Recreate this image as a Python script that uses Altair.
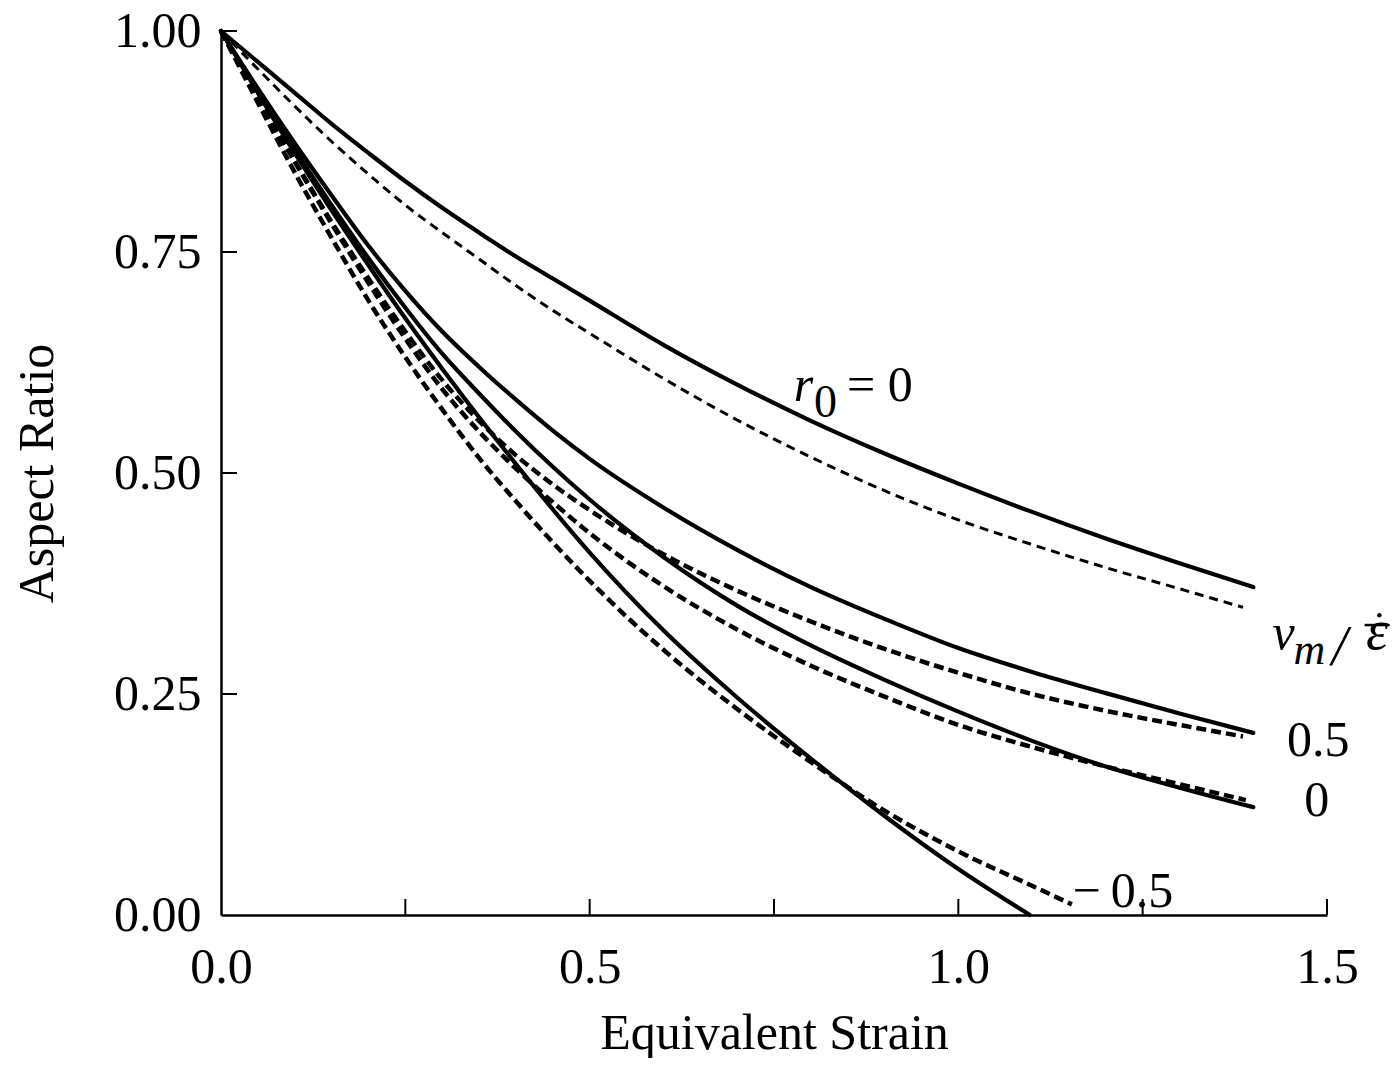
import altair as alt
import pandas as pd

# ---- data ----
xs = [0, 0.05, 0.1, 0.15, 0.2, 0.25, 0.3, 0.35, 0.4, 0.45, 0.5, 0.6, 0.7, 0.8, 0.9, 1.0, 1.1, 1.2, 1.3, 1.4]

solid_A = [1.0, 0.965, 0.93, 0.895, 0.862, 0.83, 0.80, 0.772, 0.745, 0.72, 0.695, 0.645, 0.60, 0.559, 0.522, 0.488, 0.456, 0.426, 0.398, 0.371]
dash_A_x = [0, 0.05, 0.1, 0.15, 0.2, 0.25, 0.3, 0.35, 0.4, 0.45, 0.5, 0.6, 0.7, 0.8, 0.9, 1.0, 1.1, 1.2, 1.3, 1.386]
dash_A = [1.0, 0.957, 0.915, 0.875, 0.838, 0.803, 0.772, 0.742, 0.712, 0.684, 0.658, 0.607, 0.560, 0.518, 0.480, 0.447, 0.419, 0.393, 0.369, 0.348]

solid_B = [1.0, 0.935, 0.873, 0.814, 0.757, 0.706, 0.66, 0.62, 0.583, 0.548, 0.516, 0.461, 0.413, 0.371, 0.335, 0.302, 0.275, 0.251, 0.228, 0.206]
dash_B_x = [0, 0.05, 0.1, 0.15, 0.2, 0.25, 0.3, 0.35, 0.4, 0.45, 0.5, 0.6, 0.7, 0.8, 0.9, 1.0, 1.1, 1.2, 1.3, 1.386]
dash_B = [1.0, 0.925, 0.853, 0.784, 0.72, 0.66, 0.605, 0.559, 0.52, 0.487, 0.458, 0.408, 0.367, 0.332, 0.301, 0.274, 0.25, 0.231, 0.215, 0.202]

solid_C = [1.0, 0.932, 0.866, 0.803, 0.743, 0.687, 0.635, 0.59, 0.547, 0.507, 0.47, 0.405, 0.350, 0.305, 0.266, 0.23, 0.197, 0.168, 0.144, 0.122]
dash_C_x = [0, 0.05, 0.1, 0.15, 0.2, 0.25, 0.3, 0.35, 0.4, 0.45, 0.5, 0.6, 0.7, 0.8, 0.9, 1.0, 1.1, 1.2, 1.3, 1.39]
dash_C = [1.0, 0.925, 0.852, 0.782, 0.715, 0.652, 0.595, 0.547, 0.505, 0.467, 0.432, 0.372, 0.323, 0.282, 0.247, 0.215, 0.19, 0.168, 0.148, 0.13]

solid_D_x = [0, 0.05, 0.1, 0.15, 0.2, 0.25, 0.3, 0.35, 0.4, 0.5, 0.6, 0.7, 0.8, 0.9, 1.0, 1.097]
solid_D = [1.0, 0.93, 0.862, 0.797, 0.735, 0.675, 0.618, 0.563, 0.51, 0.41, 0.322, 0.246, 0.177, 0.112, 0.052, 0.0]
dash_D_x = [0, 0.05, 0.1, 0.15, 0.2, 0.25, 0.3, 0.35, 0.4, 0.5, 0.6, 0.7, 0.8, 0.9, 1.0, 1.1, 1.154]
dash_D = [1.0, 0.919, 0.84, 0.766, 0.695, 0.631, 0.572, 0.517, 0.468, 0.378, 0.300, 0.233, 0.173, 0.118, 0.072, 0.033, 0.012]

x_ticks = [0.25, 0.5, 0.75, 1.0, 1.25, 1.5]
y_ticks = [0.25, 0.5, 0.75, 1.0]
x_labels = [0.0, 0.5, 1.0, 1.5]
y_labels = [0.0, 0.25, 0.5, 0.75, 1.0]

FONT = "Liberation Serif"
W, H = 1106, 884

def frame(name, xv, yv):
    return pd.DataFrame({"series": name, "x": xv, "y": yv, "i": range(len(xv))})

solid_df = pd.concat([
    frame("A", xs, solid_A), frame("B", xs, solid_B),
    frame("C", xs, solid_C), frame("D", solid_D_x, solid_D)])
dashA_df = frame("A", dash_A_x, dash_A)
dash_df = pd.concat([frame("B", dash_B_x, dash_B), frame("C", dash_C_x, dash_C), frame("D", dash_D_x, dash_D)])

xscale = alt.Scale(domain=[0, 1.5], nice=False, zero=False)
yscale = alt.Scale(domain=[0, 1.0], nice=False, zero=False)

xaxis = alt.Axis(values=x_labels, format=".1f", title="Equivalent Strain", grid=False,
                 ticks=False, labelFlush=False, domainColor="black", domainWidth=2.5,
                 labelFont=FONT, labelFontSize=50, labelColor="black", labelPadding=27,
                 titleFont=FONT, titleFontSize=50, titleFontWeight="normal", titleColor="black",
                 titlePadding=16)
yaxis = alt.Axis(values=y_labels, format=".2f", title="Aspect Ratio", grid=False,
                 ticks=False, labelFlush=False, domainColor="black", domainWidth=2.5,
                 labelFont=FONT, labelFontSize=50, labelColor="black", labelPadding=20,
                 titleFont=FONT, titleFontSize=50, titleFontWeight="normal", titleColor="black",
                 titlePadding=51)

X = alt.X("x:Q", scale=xscale, axis=xaxis)
Y = alt.Y("y:Q", scale=yscale, axis=yaxis)

solid = alt.Chart(solid_df).mark_line(color="black", strokeWidth=4.2, interpolate="monotone",
                                      strokeCap="round").encode(x=X, y=Y, detail="series:N", order="i:Q")
dashedA = alt.Chart(dashA_df).mark_line(color="black", strokeWidth=3, strokeDash=[9, 6],
                                        interpolate="monotone").encode(
    x=alt.X("x:Q", scale=xscale), y=alt.Y("y:Q", scale=yscale), order="i:Q")
dashed = alt.Chart(dash_df).mark_line(color="black", strokeWidth=4.5, strokeDash=[10, 5],
                                      interpolate="monotone").encode(
    x=alt.X("x:Q", scale=xscale), y=alt.Y("y:Q", scale=yscale), detail="series:N", order="i:Q")

xt = alt.Chart(pd.DataFrame({"t": x_ticks})).mark_rule(color="black", strokeWidth=2).encode(
    x=alt.X("t:Q", scale=xscale), y=alt.value(H), y2=alt.value(H - 16))
yt = alt.Chart(pd.DataFrame({"t": y_ticks})).mark_rule(color="black", strokeWidth=2).encode(
    y=alt.Y("t:Q", scale=yscale), x=alt.value(0), x2=alt.value(16))

# annotations
ann_upright = pd.DataFrame({
    "x": [0.849, 1.488, 1.486, 1.155],
    "y": [0.581, 0.180, 0.112, 0.009],
    "t": ["= 0", "0.5", "0", "\u2212\u20090.5"],
    "a": ["left", "center", "center", "left"],
})
txt_left = alt.Chart(ann_upright[ann_upright.a == "left"]).mark_text(
    font=FONT, fontSize=50, align="left", baseline="alphabetic", color="black").encode(
    x=alt.X("x:Q", scale=xscale), y=alt.Y("y:Q", scale=yscale), text="t:N")
txt_center = alt.Chart(ann_upright[ann_upright.a == "center"]).mark_text(
    font=FONT, fontSize=50, align="center", baseline="alphabetic", color="black").encode(
    x=alt.X("x:Q", scale=xscale), y=alt.Y("y:Q", scale=yscale), text="t:N")

ann_italic = pd.DataFrame({
    "x": [0.790, 1.441],
    "y": [0.581, 0.301],
    "t": ["r", "v"],
})
txt_it = alt.Chart(ann_italic).mark_text(font=FONT, fontSize=50, fontStyle="italic", align="center",
                                         baseline="alphabetic", color="black").encode(
    x=alt.X("x:Q", scale=xscale), y=alt.Y("y:Q", scale=yscale), text="t:N")
ann_big = pd.DataFrame({"x": [1.517, 1.568], "y": [0.283, 0.301], "t": ["/", "\u03b5"]})
txt_big = alt.Chart(ann_big).mark_text(font=FONT, fontSize=56, fontStyle="italic", align="center",
                                       baseline="alphabetic", color="black").encode(
    x=alt.X("x:Q", scale=xscale), y=alt.Y("y:Q", scale=yscale), text="t:N")
ann_sub = pd.DataFrame({"x": [0.820, 1.476], "y": [0.563, 0.284], "t": ["0", "m"],
                        "s": ["normal", "italic"]})
txt_sub0 = alt.Chart(ann_sub[ann_sub.s == "normal"]).mark_text(
    font=FONT, fontSize=46, align="center", baseline="alphabetic", color="black").encode(
    x=alt.X("x:Q", scale=xscale), y=alt.Y("y:Q", scale=yscale), text="t:N")
txt_subm = alt.Chart(ann_sub[ann_sub.s == "italic"]).mark_text(
    font=FONT, fontSize=44, fontStyle="italic", align="center", baseline="alphabetic", color="black").encode(
    x=alt.X("x:Q", scale=xscale), y=alt.Y("y:Q", scale=yscale), text="t:N")
# bar and dot over epsilon
bar_df = pd.DataFrame({"x": [1.551], "x2": [1.585], "y": [0.328]})
bar = alt.Chart(bar_df).mark_rule(color="black", strokeWidth=2.5).encode(
    x=alt.X("x:Q", scale=xscale), x2="x2:Q", y=alt.Y("y:Q", scale=yscale))
dot_df = pd.DataFrame({"x": [1.571], "y": [0.339]})
dot = alt.Chart(dot_df).mark_point(filled=True, color="black", size=20, opacity=1).encode(
    x=alt.X("x:Q", scale=xscale), y=alt.Y("y:Q", scale=yscale))

chart = alt.layer(solid, dashedA, dashed, xt, yt, txt_left, txt_center, txt_it, txt_big, txt_sub0,
                  txt_subm, bar, dot).properties(
    width=W, height=H, padding={"left": 12, "top": 6, "right": 0, "bottom": 0}
).configure(background="white").configure_view(stroke="transparent", strokeWidth=0)

chart.save("out.html", embed_options={"renderer": "svg", "actions": False})
